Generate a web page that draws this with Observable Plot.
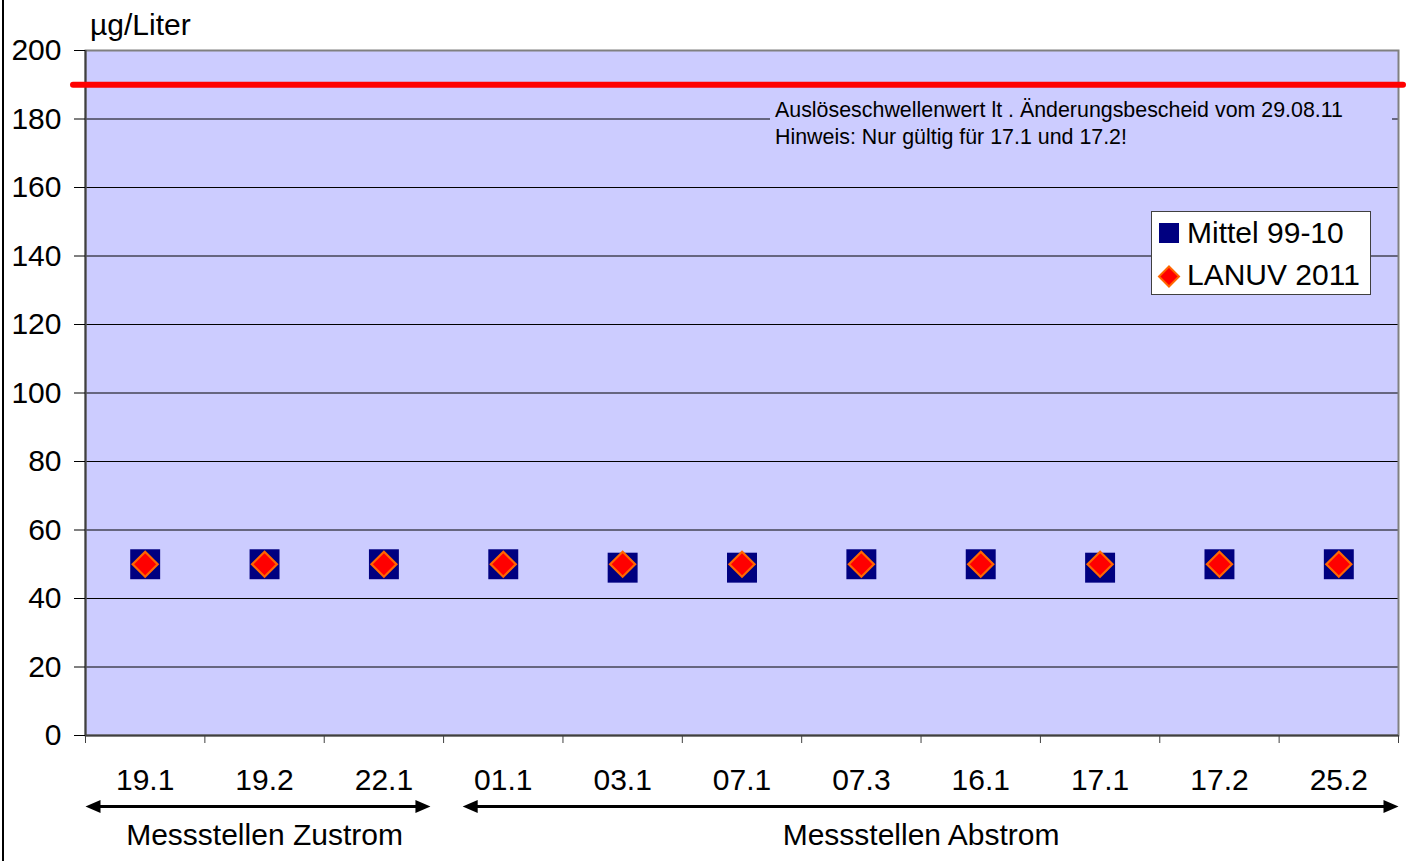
<!DOCTYPE html>
<html>
<head>
<meta charset="utf-8">
<script src="https://cdn.jsdelivr.net/npm/d3@7"></script>
<script src="https://cdn.jsdelivr.net/npm/@observablehq/plot@0.6"></script>
<style>
  html, body { margin: 0; padding: 0; background: #ffffff; }
  #wrap { position: relative; width: 1413px; height: 861px; overflow: hidden; font-family: "Liberation Sans", Arial, sans-serif; color: #000; }
  #wrap svg.plot { position: absolute; left: 0; top: 0; }
  .ov { position: absolute; white-space: nowrap; }
</style>
</head>
<body>
<div id="wrap"></div>
<script>
// ---- data ----
const categories = ["19.1","19.2","22.1","01.1","03.1","07.1","07.3","16.1","17.1","17.2","25.2"];
const mittel9910 = [50, 50, 50, 50, 49, 49, 50, 50, 49, 50, 50];
const lanuv2011  = [50, 50, 50, 50, 50, 50, 50, 50, 50, 50, 50];
const threshold = 190;
const yTicks = [0, 20, 40, 60, 80, 100, 120, 140, 160, 180, 200];
const seriesNames = ["Mittel 99-10", "LANUV 2011"];
const unitLabel = "µg/Liter";
const noteLines = ["Auslöseschwellenwert lt . Änderungsbescheid vom 29.08.11", "Hinweis: Nur gültig für 17.1 und 17.2!"];
const groups = [
  {name: "Messstellen Zustrom", first: "19.1", last: "22.1"},
  {name: "Messstellen Abstrom", first: "01.1", last: "25.2"}
];

const rows = categories.map((c, i) => ({c, i, mittel: mittel9910[i], lanuv: lanuv2011[i]}));
const groupRows = groups.map((g, k) => {
  const a = categories.indexOf(g.first), b = categories.indexOf(g.last) + 1;
  return {name: g.name, x1: a + (k === 0 ? 0 : 0.16), x2: b - (k === 0 ? 0.11 : 0), xm: (a + b) / 2};
});

const headRight = { draw(ctx) { ctx.moveTo(0, 0); ctx.lineTo(-15, -6.5); ctx.lineTo(-15, 6.5); ctx.closePath(); } };

const chart = Plot.plot({
  width: 1413,
  height: 861,
  marginLeft: 85,
  marginRight: 15,
  marginTop: 50,
  marginBottom: 126,
  style: {fontFamily: "'Liberation Sans', Arial, sans-serif", fontSize: "30px", color: "black", background: "transparent", overflow: "visible"},
  x: {type: "linear", domain: [0, categories.length]},
  y: {domain: [0, 200]},
  marks: [
    Plot.frame({fill: "#CCCCFF"}),
    Plot.ruleY(yTicks.filter(t => t > 0 && t < 200), {stroke: "black", strokeWidth: 1}),
    Plot.frame({stroke: "#808080", strokeWidth: 2}),
    Plot.ruleX([0], {stroke: "#404040", strokeWidth: 2}),
    Plot.ruleY([0], {stroke: "#404040", strokeWidth: 2}),
    Plot.axisY({ticks: yTicks, tickSize: 11, tickPadding: 13, fontSize: 30, color: "black", label: null}),
    Plot.axisX({ticks: d3.range(categories.length + 1), tickFormat: () => "", tickSize: 8, color: "#404040", label: null}),
    Plot.text(rows, {x: d => d.i + 0.5, y: () => 0, text: "c", dy: 45, fontSize: 30, fill: "black", lineAnchor: "middle"}),
    Plot.ruleY([threshold], {stroke: "#FF0000", strokeWidth: 6, insetLeft: -12, insetRight: -5, strokeLinecap: "round"}),
    Plot.dot(rows, {x: d => d.i + 0.5, y: "mittel", symbol: "square", r: 16.9, fill: "#000080", stroke: "none"}),
    Plot.dot(rows, {x: d => d.i + 0.5, y: "lanuv", symbol: "diamond2", r: 11.3, fill: "#FF0000", stroke: "#FF6600", strokeWidth: 2.2}),
    // group arrows below the axis
    Plot.link(groupRows, {x1: d => d.x1 + 0.1, x2: d => d.x2 - 0.1, y1: () => 0, y2: () => 0, dy: 71, stroke: "black", strokeWidth: 3}),
    Plot.dot(groupRows, {x: "x2", y: () => 0, dy: 71, symbol: headRight, fill: "black", stroke: "none"}),
    Plot.dot(groupRows, {x: "x1", y: () => 0, dy: 71, symbol: headRight, rotate: 180, fill: "black", stroke: "none"}),
    Plot.text(groupRows, {x: "xm", y: () => 0, text: "name", dy: 100, fontSize: 30, fill: "black", lineAnchor: "middle"})
  ]
});
chart.classList.add("plot");
const wrap = document.getElementById("wrap");
wrap.appendChild(chart);

// left page border
const border = document.createElement("div");
border.className = "ov";
Object.assign(border.style, {left: "2px", top: "0px", width: "2px", height: "861px", background: "#000"});
wrap.appendChild(border);

// unit label
const unit = document.createElement("div");
unit.className = "ov";
Object.assign(unit.style, {left: "90px", top: "9.6px", fontSize: "30px", lineHeight: "30px"});
unit.textContent = unitLabel;
wrap.appendChild(unit);

// threshold note
const note = document.createElement("div");
note.className = "ov";
Object.assign(note.style, {left: "770px", top: "97px", width: "617px", height: "52px", background: "#CCCCFF", paddingLeft: "5px", fontSize: "21.4px", lineHeight: "27px"});
note.innerHTML = noteLines.map(t => `<div>${t}</div>`).join("");
wrap.appendChild(note);

// legend
const legend = document.createElement("div");
legend.className = "ov";
Object.assign(legend.style, {left: "1151px", top: "211px", width: "218px", height: "82px", background: "#ffffff", border: "1px solid #404040"});
wrap.appendChild(legend);
const lsvg = d3.create("svg").attr("width", 40).attr("height", 82).style("position", "absolute").style("left", "0px").style("top", "0px");
lsvg.append("rect").attr("x", 7).attr("y", 11).attr("width", 20).attr("height", 20).attr("fill", "#000080");
lsvg.append("path").attr("d", "M17,54.5 L27,64.5 L17,74.5 L7,64.5 Z").attr("fill", "#FF0000").attr("stroke", "#FF6600").attr("stroke-width", 2);
legend.appendChild(lsvg.node());
seriesNames.forEach((n, k) => {
  const t = document.createElement("div");
  t.className = "ov";
  Object.assign(t.style, {left: "35px", top: (k === 0 ? 5.6 : 47.6) + "px", fontSize: "30px", lineHeight: "30px"});
  t.textContent = n;
  legend.appendChild(t);
});
</script>
</body>
</html>
